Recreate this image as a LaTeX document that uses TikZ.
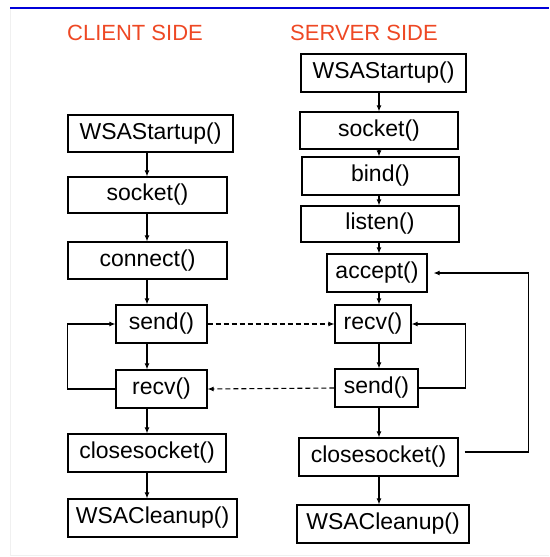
\documentclass[tikz,border=0pt]{standalone}
\usepackage{fontspec}
\setmainfont{Liberation Sans}
\usetikzlibrary{arrows.meta}
\definecolor{headred}{RGB}{238,72,36}

\begin{document}
\begin{tikzpicture}[x=1pt,y=-1pt,>={Latex[length=6pt,width=5pt]},
    call/.style={draw, line width=1.2pt, inner sep=0pt, font=\fontsize{23}{26}\selectfont},
    flow/.style={->, line width=1.1pt},
    msg/.style={->, line width=1.1pt, dash pattern=on 5pt off 3pt}]
    \useasboundingbox (0,0) rectangle (549,557);
    \draw[black!6] (10,8) -- (10,555) -- (549,555);
    \draw[blue!85!black, line width=2.5pt] (10,8) -- (549,8);

    \node[headred, font=\fontsize{22}{25}\selectfont] (ctitle) at (135,33) {CLIENT SIDE};
    \node[headred, font=\fontsize{22}{25}\selectfont] (stitle) at (364,33) {SERVER SIDE};

    % client column
    \coordinate (cx) at (147,0);
    \node[call, minimum width=165pt, minimum height=37pt] (cstart) at (150.5,133.5) {WSAStartup()};
    \node[call, minimum width=159pt, minimum height=36pt] (csocket) at (147.5,195) {socket()};
    \node[call, minimum width=159pt, minimum height=37pt] (cconnect) at (147.5,260.5) {connect()};
    \node[call, minimum width=91pt, minimum height=38pt] (csend) at (161.5,324) {send()};
    \node[call, minimum width=91pt, minimum height=38pt] (crecv) at (161.5,389) {recv()};
    \node[call, minimum width=158pt, minimum height=38pt] (cclose) at (147,453) {closesocket()};
    \node[call, minimum width=169pt, minimum height=38pt] (cclean) at (152.5,518) {WSACleanup()};

    % server column
    \coordinate (sx) at (379,0);
    \node[call, minimum width=165pt, minimum height=38pt] (sstart) at (383.5,73) {WSAStartup()};
    \node[call, minimum width=158pt, minimum height=37pt] (ssocket) at (379,130.5) {socket()};
    \node[call, minimum width=157pt, minimum height=38pt] (sbind) at (380.5,176) {bind()};
    \node[call, minimum width=158pt, minimum height=36pt] (slisten) at (380,224) {listen()};
    \node[call, minimum width=100pt, minimum height=38pt] (saccept) at (377,273) {accept()};
    \node[call, minimum width=76pt, minimum height=38pt] (srecv) at (373,324) {recv()};
    \node[call, minimum width=83pt, minimum height=38pt] (ssend) at (376.5,388) {send()};
    \node[call, minimum width=159pt, minimum height=38pt] (sclose) at (378.5,457) {closesocket()};
    \node[call, minimum width=172pt, minimum height=38pt] (sclean) at (383,524) {WSACleanup()};

    \foreach \k/\l in {cstart/csocket, csocket/cconnect, cconnect/csend,
        csend/crecv, crecv/cclose, cclose/cclean}{
        \draw[flow] (\k.south -| cx) -- (\l.north -| cx);
    }
    \foreach \k/\l in {sstart/ssocket, ssocket/sbind, sbind/slisten, slisten/saccept,
        saccept/srecv, srecv/ssend, ssend/sclose, sclose/sclean}{
        \draw[flow] (\k.south -| sx) -- (\l.north -| sx);
    }

    % loops
    \draw[flow] (crecv.west) -- ++(-48,0) |- (csend.west);
    \draw[flow] (ssend.east) -- ++(47,0) |- (srecv.east);
    \draw[flow, shorten <=6pt, shorten >=6pt] ([yshift=5pt]sclose.east) -- ++(70,0) |- (saccept.east);

    % messages between the two sides
    \draw[msg] (csend.east) -- (srecv.west);
    \draw[msg] (ssend.west) -- (crecv.east);
\end{tikzpicture}
\end{document}
